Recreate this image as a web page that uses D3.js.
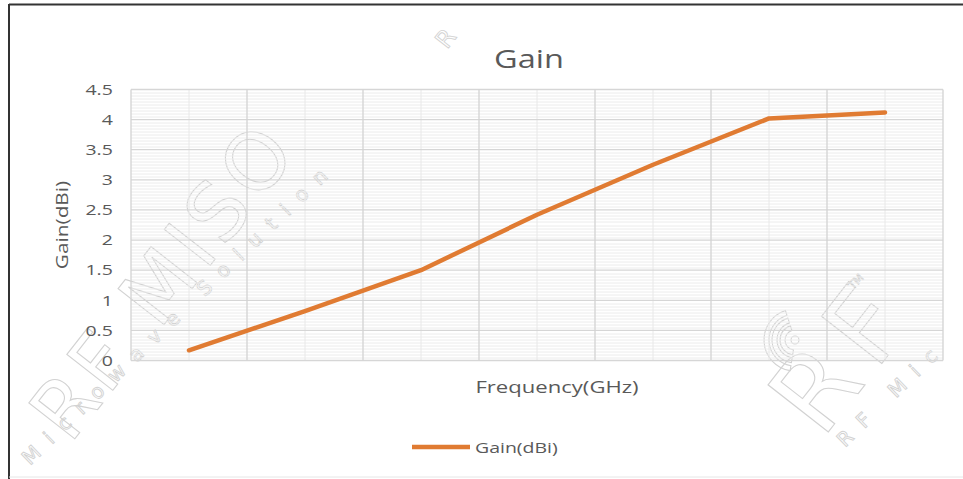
<!DOCTYPE html>
<html><head><meta charset="utf-8">
<script src="https://cdn.jsdelivr.net/npm/d3@7/dist/d3.min.js"></script>
<style>
html,body{margin:0;padding:0;background:#fff;}
svg{display:block;font-family:"Open Sans",sans-serif;}
</style></head>
<body><svg id="c" width="963" height="479"></svg>
<script>
const categories = ["F1","F2","F3","F4","F5","F6","F7"];
const gainValues = [0.17, 0.82, 1.5, 2.42, 3.25, 4.02, 4.12];
const yTicks = [0, 0.5, 1, 1.5, 2, 2.5, 3, 3.5, 4, 4.5];
const seriesName = "Gain(dBi)";
const titleText = "Gain";
const xTitle = "Frequency(GHz)";
const yTitle = "Gain(dBi)";

const svg = d3.select("#c");
const W = 963, H = 479;
const m = {left:131, top:89.5};
const pw = 943 - m.left, ph = 360.5 - m.top;
const textColor = "#595959";
const lineColor = "#E07B32";
const SX = 1.3; // horizontal stretch of the reference's lettering

// frame
svg.append("rect").attr("x",0).attr("y",0).attr("width",W).attr("height",H).attr("fill","#fff");
svg.append("line").attr("x1",9).attr("x2",963).attr("y1",4.5).attr("y2",4.5).attr("stroke","#333").attr("stroke-width",2);
svg.append("line").attr("x1",9).attr("x2",9).attr("y1",4).attr("y2",479).attr("stroke","#333").attr("stroke-width",2);
svg.append("line").attr("x1",9).attr("x2",963).attr("y1",477).attr("y2",477).attr("stroke","#e6e6e6").attr("stroke-width",1);

// watermarks (outlined, faint)
const wm = svg.append("g").attr("fill","none").attr("stroke","#d2d2d2").attr("stroke-width",1.1)
  .style("font-family","'DejaVu Sans',sans-serif");
wm.append("text").attr("transform","translate(70,445) rotate(-52)").attr("font-size",80)
  .attr("letter-spacing",6).text("RF MISO");
wm.append("text").attr("transform","translate(30,466) rotate(-44)").attr("font-size",20)
  .attr("letter-spacing",13).attr("stroke-width",0.9).text("Microwave Solution");
wm.append("text").attr("transform","translate(822,440) rotate(-52)").attr("font-size",105)
  .attr("letter-spacing",14).text("RF");
wm.append("text").attr("transform","translate(845,448) rotate(-44)").attr("font-size",20)
  .attr("letter-spacing",13).attr("stroke-width",0.9).text("RF Mic");
wm.append("text").attr("transform","translate(447,50) rotate(-52)").attr("font-size",24)
  .attr("stroke-width",0.9).text("R");
wm.append("text").attr("transform","translate(853,290) rotate(-46)").attr("font-size",11)
  .attr("stroke-width",0.8).text("TM");
const arc = d3.arc();
[10,18,26].forEach(r=>{
  wm.append("path").attr("transform","translate(795,340)")
    .attr("d",arc({innerRadius:r,outerRadius:r+5,startAngle:-Math.PI*0.95,endAngle:-Math.PI*0.1}));
});
wm.append("circle").attr("cx",795).attr("cy",340).attr("r",4);

const g = svg.append("g").attr("transform",`translate(${m.left},${m.top})`);
const x = d3.scaleBand().domain(categories).range([0,pw]).paddingInner(0).paddingOuter(0);
const y = d3.scaleLinear().domain([0,4.5]).range([ph,0]);

// minor horizontal grid
const minor = d3.range(0,4.5001,0.05).filter(v=>Math.abs(v*2-Math.round(v*2))>1e-6);
g.append("g").selectAll("line").data(minor).join("line")
  .attr("x1",0).attr("x2",pw).attr("y1",d=>Math.round(y(d))+0.5).attr("y2",d=>Math.round(y(d))+0.5)
  .attr("stroke","#ececec").attr("stroke-width",1);
// minor vertical grid (category centers)
g.append("g").selectAll("line").data(categories).join("line")
  .attr("y1",0).attr("y2",ph).attr("x1",d=>x(d)+x.bandwidth()/2).attr("x2",d=>x(d)+x.bandwidth()/2)
  .attr("stroke","#e8e8e8").attr("stroke-width",1);
// major horizontal grid
g.append("g").selectAll("line").data(yTicks).join("line")
  .attr("x1",0).attr("x2",pw).attr("y1",d=>y(d)).attr("y2",d=>y(d))
  .attr("stroke","#d6d6d6").attr("stroke-width",1.3);
// major vertical grid (category boundaries)
const bounds = categories.map(c=>x(c)).concat([pw]);
g.append("g").selectAll("line").data(bounds).join("line")
  .attr("y1",0).attr("y2",ph).attr("x1",d=>d).attr("x2",d=>d)
  .attr("stroke","#d3d3d3").attr("stroke-width",1.3);

// y axis labels
const yAxis = d3.axisLeft(y).tickValues(yTicks).tickSize(0).tickPadding(14).tickFormat(d3.format("~g"));
const ya = g.append("g").call(yAxis);
ya.select(".domain").remove();
ya.selectAll("text").attr("fill",textColor).attr("transform",`scale(${SX},1)`)
  .style("font-size","15px").style("font-family","'Open Sans',sans-serif");

// line
const line = d3.line().x((d,i)=>x(categories[i])+x.bandwidth()/2).y(d=>y(d));
g.append("path").datum(gainValues).attr("d",line).attr("fill","none")
  .attr("stroke",lineColor).attr("stroke-width",4.5).attr("stroke-linejoin","round").attr("stroke-linecap","round");

// titles (stretched like the reference)
function stretched(px, py, size, txt, anchor, rot){
  const t = svg.append("text")
    .attr("transform",`translate(${px},${py})${rot?` rotate(${rot})`:""} scale(${SX},1)`)
    .attr("text-anchor",anchor).attr("fill",textColor).style("font-size",size+"px").text(txt);
  return t;
}
stretched(529, 68, 25, titleText, "middle");
stretched(557, 393, 17, xTitle, "middle");
svg.append("text").attr("transform","translate(68,225) rotate(-90) scale(1.3,1)").attr("text-anchor","middle")
  .attr("fill",textColor).style("font-size","16px").text(yTitle);

// legend
svg.append("line").attr("x1",412).attr("x2",470).attr("y1",447).attr("y2",447)
  .attr("stroke",lineColor).attr("stroke-width",4.5);
stretched(475, 453, 15, seriesName, "start");
</script></body></html>
